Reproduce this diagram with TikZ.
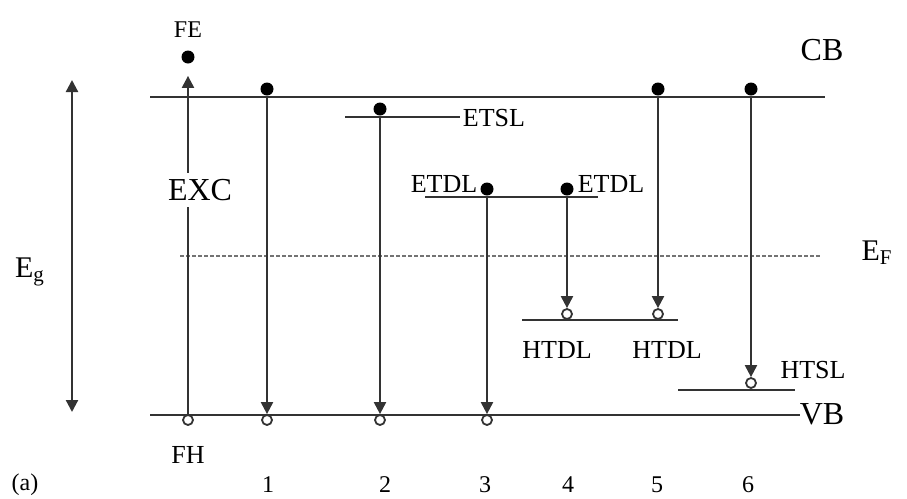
\documentclass[tikz,border=0pt]{standalone}
\usepackage{fontspec}
\setmainfont{Liberation Serif}
\usetikzlibrary{arrows.meta}
\tikzset{
  niveau/.style={line width=1.2pt, draw=black!80},
  trans/.style={line width=1.1pt, draw=black!80, -{Triangle[length=6pt,width=6pt]}},
  elec/.style={circle, fill=black, inner sep=0pt, minimum size=6.5pt},
  trou/.style={circle, draw=black!80, fill=white, line width=0.9pt, inner sep=0pt, minimum size=5pt},
  etiq/.style={font=\fontsize{13}{15}\selectfont, inner sep=1pt},
  petit/.style={font=\fontsize{12}{14}\selectfont, inner sep=1pt},
  grand/.style={font=\fontsize{16}{18}\selectfont, inner sep=1pt},
}
\begin{document}
\begin{tikzpicture}[x=0.5pt, y=-0.5pt]
		\useasboundingbox (0,0) rectangle (907,499);
		%Niveaux
		\coordinate (CBg) at (150,97);   \coordinate (CBd) at (825,97);
		\coordinate (ETSLg) at (345,117); \coordinate (ETSLd) at (460,117);
		\coordinate (ETDLg) at (425,197); \coordinate (ETDLd) at (598,197);
		\coordinate (HTDLg) at (522,320); \coordinate (HTDLd) at (678,320);
		\coordinate (HTSLg) at (678,390); \coordinate (HTSLd) at (795,390);
		\coordinate (VBg) at (150,415);   \coordinate (VBd) at (800,415);
		\coordinate (EFg) at (180,256);   \coordinate (EFd) at (820,256);
		\draw[niveau] (CBg) -- (CBd);
		\draw[niveau] (ETSLg) -- (ETSLd);
		\draw[niveau] (ETDLg) -- (ETDLd);
		\draw[niveau] (HTDLg) -- (HTDLd);
		\draw[niveau] (HTSLg) -- (HTSLd);
		\draw[niveau] (VBg) -- (VBd);
		\draw[black!55, line width=0.7pt, dash pattern=on 2pt off 1pt] (EFg) -- (EFd);
		%Electrons
		\node[elec] (eFE) at (188,57) {};
		\node[elec] (e1) at (267,89) {};
		\node[elec] (e2) at (380,109) {};
		\node[elec] (e3) at (487,189) {};
		\node[elec] (e4) at (567,189) {};
		\node[elec] (e5) at (658,89) {};
		\node[elec] (e6) at (751,89) {};
		%Trous
		\node[trou] (hFH) at (188,420) {};
		\node[trou] (h1) at (267,420) {};
		\node[trou] (h2) at (380,420) {};
		\node[trou] (h3) at (487,420) {};
		\node[trou] (h4) at (567,314) {};
		\node[trou] (h5) at (658,314) {};
		\node[trou] (h6) at (751,383) {};
		%Transitions
		\draw[trans, shorten >=6pt] (hFH) -- (eFE);
		\draw[trans] (e1) -- (h1);
		\draw[trans] (e2) -- (h2);
		\draw[trans] (e3) -- (h3);
		\draw[trans] (e4) -- (h4);
		\draw[trans] (e5) -- (h5);
		\draw[trans] (e6) -- (h6);
		%Bande interdite
		\coordinate (Egh) at (72,80);
		\coordinate (Egb) at (72,412);
		\draw[line width=1.1pt, draw=black!80, {Triangle[length=6pt,width=6pt]}-{Triangle[length=6pt,width=6pt]}] (Egh) -- (Egb);
		%Etiquettes
		\node[grand, fill=white, inner sep=3pt] (EXC) at (200,190) {EXC};
		\node[petit] (lFE) at (188,30) {FE};
		\node[etiq] (lFH) at (188,455) {FH};
		\node[grand] (lCB) at (822,50) {CB};
		\node[grand] (lVB) at (822,414) {VB};
		\node[font=\fontsize{15}{17}\selectfont, inner sep=1pt] (lEF) at (877,253) {E\textsubscript{F}};
		\node[font=\fontsize{15}{17}\selectfont, inner sep=1pt] (lEg) at (30,272) {E\textsubscript{g}};
		\node[etiq] (lETSL) at (494,118) {ETSL};
		\node[etiq] (lETDLa) at (444,184) {ETDL};
		\node[etiq] (lETDLb) at (611,184) {ETDL};
		\node[etiq] (lHTDLa) at (557,350) {HTDL};
		\node[etiq] (lHTDLb) at (667,350) {HTDL};
		\node[etiq] (lHTSL) at (813,370) {HTSL};
		\node[petit] (la) at (25,485) {(a)};
		\node[petit] (n1) at (268,485) {1};
		\node[petit] (n2) at (385,485) {2};
		\node[petit] (n3) at (485,485) {3};
		\node[petit] (n4) at (568,485) {4};
		\node[petit] (n5) at (657,485) {5};
		\node[petit] (n6) at (748,485) {6};
\end{tikzpicture}
\end{document}
